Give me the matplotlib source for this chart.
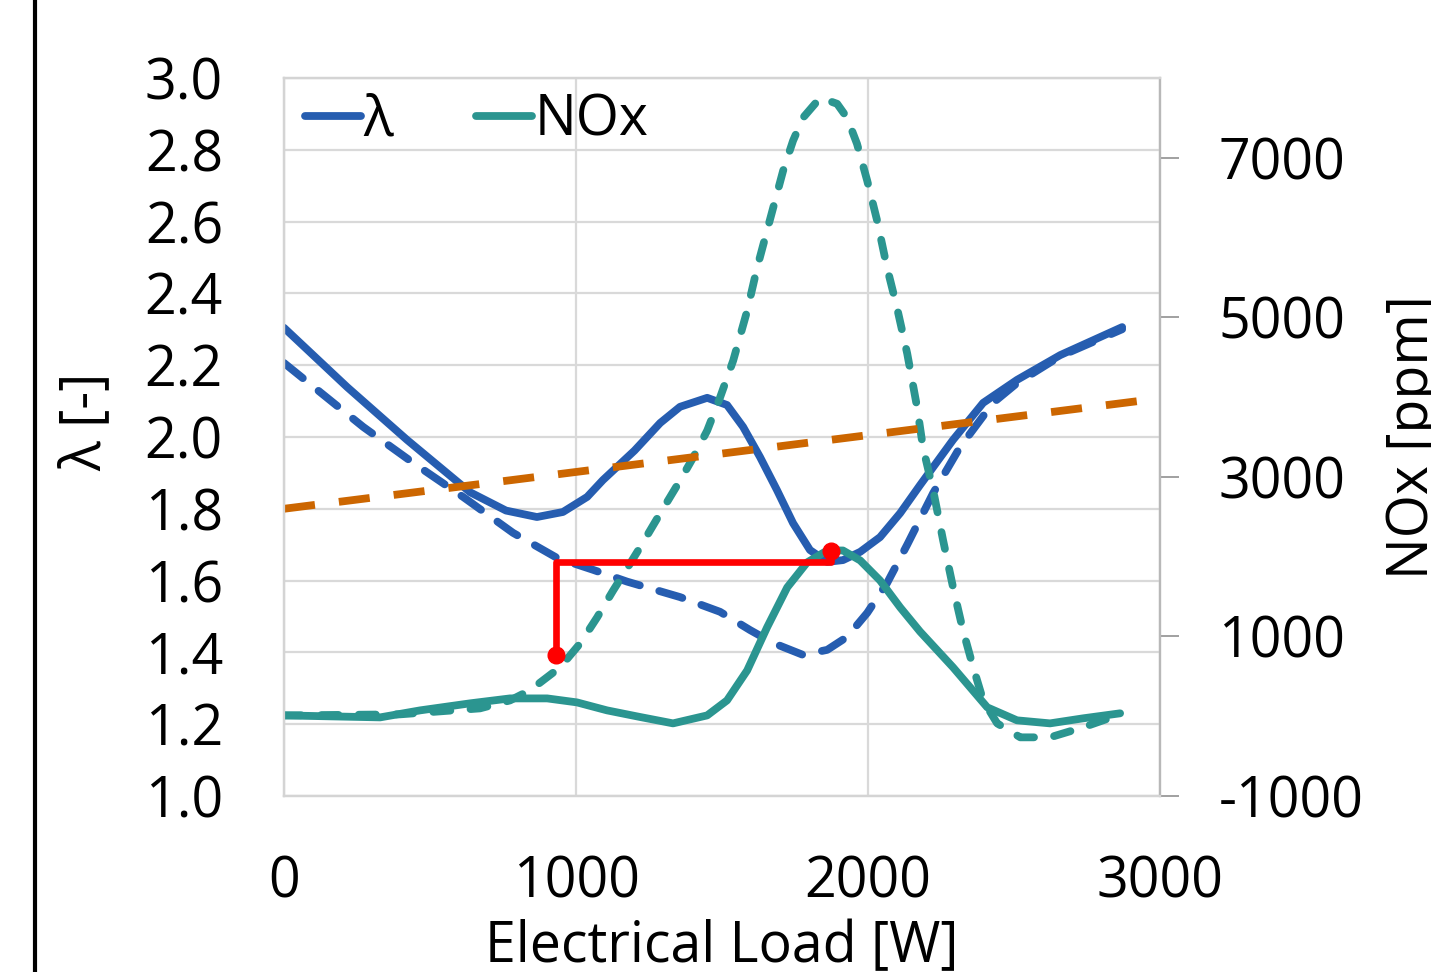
import matplotlib
matplotlib.use('Agg')
import matplotlib.pyplot as plt
from matplotlib.lines import Line2D

plt.rcParams['font.family'] = ['Open Sans', 'DejaVu Sans']
plt.rcParams['axes.unicode_minus'] = False

# Lambda (linke Achse)
lam_x = [0, 216, 421, 637, 760, 866, 955, 1038, 1092, 1200, 1288, 1356, 1449, 1517,
         1572, 1630, 1688, 1743, 1801, 1860, 1914, 1973, 2041, 2110, 2178, 2291, 2394,
         2510, 2658, 2870]
lam_y = [2.304, 2.139, 1.992, 1.846, 1.795, 1.777, 1.791, 1.833, 1.880, 1.962, 2.039,
         2.084, 2.109, 2.089, 2.028, 1.944, 1.852, 1.760, 1.685, 1.652, 1.657, 1.680,
         1.721, 1.788, 1.866, 1.992, 2.095, 2.159, 2.228, 2.306]

lam2_x = [0, 271, 442, 613, 784, 935, 1058, 1175, 1356, 1493, 1596, 1675, 1777, 1860,
          1928, 1997, 2065, 2134, 2223, 2315, 2428, 2510, 2658, 2870]
lam2_y = [2.206, 2.028, 1.928, 1.833, 1.733, 1.663, 1.630, 1.597, 1.554, 1.513, 1.462,
          1.426, 1.393, 1.407, 1.443, 1.510, 1.593, 1.700, 1.844, 1.972, 2.095, 2.150,
          2.225, 2.300]

# NOx (rechte Achse)
nox_x = [0, 329, 466, 637, 774, 901, 1003, 1106, 1219, 1332, 1449, 1517, 1586, 1654,
         1723, 1791, 1860, 1914, 1973, 2041, 2110, 2178, 2291, 2408, 2510, 2623, 2736,
         2863]
nox_y = [10, -15, 73, 161, 223, 223, 173, 73, -10, -90, 10, 198, 574, 1113, 1614, 1927,
         2077, 2077, 1952, 1701, 1363, 1060, 612, 111, -52, -90, -27, 36]

nox2_x = [0, 397, 671, 774, 842, 945, 1014, 1072, 1127, 1185, 1219, 1288, 1356, 1401,
          1449, 1493, 1538, 1586, 1620, 1675, 1709, 1743, 1777, 1836, 1894, 1928, 1962,
          1997, 2031, 2065, 2099, 2134, 2168, 2188, 2223, 2257, 2291, 2325, 2360, 2394,
          2442, 2521, 2623, 2736, 2853]
nox2_y = [10, 23, 98, 198, 324, 612, 912, 1238, 1576, 1914, 2115, 2541, 2954, 3242,
          3580, 3994, 4457, 5083, 5622, 6374, 6837, 7213, 7501, 7752, 7676, 7501, 7175,
          6712, 6211, 5622, 5121, 4545, 3869, 3367, 2829, 2202, 1614, 1075, 612, 198,
          -90, -265, -265, -140, 10]

# Grenzlinie und Markierung
lim_x = [0, 2955]
lim_y = [1.80, 2.103]
red_x = [932, 932, 1872, 1872]
red_y = [1.393, 1.652, 1.652, 1.682]

blue = '#265db0'
teal = '#2b9590'
orange = '#cc6600'

fig = plt.figure(figsize=(14.31, 9.72), dpi=100)
ax = fig.add_axes([0.1985, 0.1811, 0.6122, 0.7387])
ax2 = ax.twinx()

lw = 5.6
ax.plot(lam_x, lam_y, color=blue, lw=lw, solid_capstyle='round', solid_joinstyle='round')
ax.plot(lam2_x, lam2_y, color=blue, lw=lw, dashes=(3.1, 2.6), dash_capstyle='round')

ax2.plot(nox_x, nox_y, color=teal, lw=lw, solid_capstyle='round', solid_joinstyle='round')
ax2.plot(nox2_x, nox2_y, color=teal, lw=lw, dashes=(2.2, 2.6), dash_capstyle='round')

# orange und rot oben drauf, aber in Lambda-Koordinaten
ax2.plot(lim_x, lim_y, color=orange, lw=lw, dashes=(4.0, 3.1), transform=ax.transData)
ax2.plot(red_x, red_y, color='#ff0000', lw=4.8, marker='o', markersize=12,
         markevery=[0, 3], transform=ax.transData)

ax.set_xlim(0, 3000)
ax.set_ylim(1.0, 3.0)
ax2.set_ylim(-1000, 8000)
ax.set_xticks([0, 1000, 2000, 3000])
ax.set_yticks([1.0, 1.2, 1.4, 1.6, 1.8, 2.0, 2.2, 2.4, 2.6, 2.8, 3.0])
ax.set_yticklabels(['%.1f' % v for v in ax.get_yticks()])
ax2.set_yticks([-1000, 1000, 3000, 5000, 7000])

ax.grid(True, color='#d9d9d9', lw=1.6)
ax.set_axisbelow(True)

for a in (ax, ax2):
    for s in a.spines.values():
        s.set_color('#d4d4d4')
        s.set_linewidth(1.6)
ax2.spines['right'].set_color('#b8b8b8')

ax.tick_params(axis='y', length=0, pad=44, labelsize=40)
ax.tick_params(axis='x', length=0, pad=42, labelsize=40)
ax2.tick_params(axis='y', length=14, width=1.4, color='#a0a0a0', pad=28, labelsize=40)

ax.set_xlabel('Electrical Load [W]', fontsize=40)
ax.xaxis.set_label_coords(0.5, -0.172)
ax.set_ylabel('λ [-]', fontsize=40)
ax.yaxis.set_label_coords(-0.193, 0.521)
ax2.set_ylabel('NOx [ppm]', fontsize=40)
ax2.yaxis.set_label_coords(1.257, 0.5)

handles = [Line2D([], [], color=blue, lw=lw, solid_capstyle='round'),
           Line2D([], [], color=teal, lw=lw, solid_capstyle='round')]
ax2.legend(handles, ['λ', 'NOx'], loc='upper left', bbox_to_anchor=(0.024, 0.98),
           ncol=2, frameon=False, fontsize=40, handlelength=1.0, handletextpad=0.05,
           columnspacing=1.5, borderpad=0, borderaxespad=0)

fig.add_artist(Line2D([0.0245, 0.0245], [0, 1], color='black', lw=3))

fig.savefig('out.png', dpi=100)
